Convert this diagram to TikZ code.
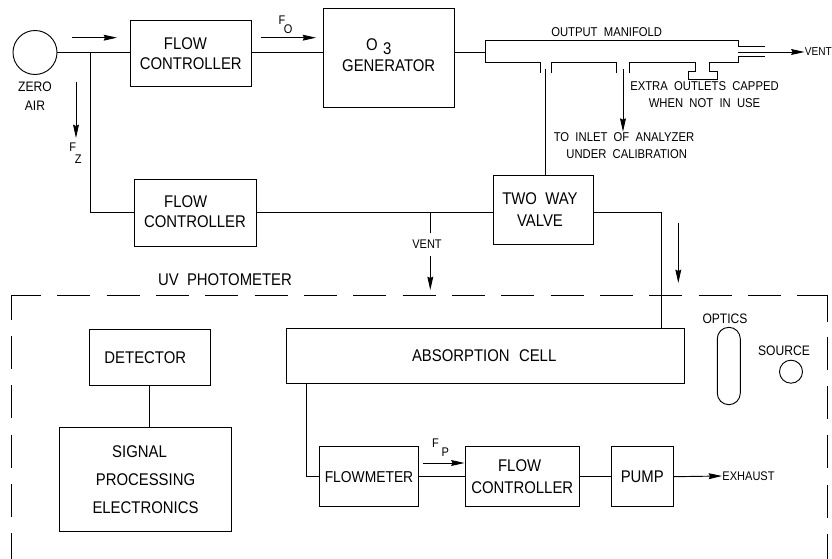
\documentclass[tikz,border=0pt]{standalone}
\usepackage{fontspec}
\setmainfont[FakeStretch=0.88,WordSpace=2]{Liberation Sans}
\usetikzlibrary{arrows.meta, positioning, calc}

\begin{document}
\begin{tikzpicture}[>={Stealth[length=10pt,width=4.4pt,inset=1pt]}, x=0.75pt, y=-0.75pt, line width=0.7pt,
  box/.style={draw, inner sep=0pt, font=\fontsize{12.7}{15}\selectfont, align=center},
  lbl/.style={inner sep=0pt, font=\fontsize{9.6}{12}\selectfont, align=center},
  lblsm/.style={inner sep=0pt, font=\fontsize{9.4}{12}\selectfont, align=center},
  lblwide/.style={inner sep=0pt, font=\fontsize{10.3}{12}\selectfont, align=center},
  heavy/.style={line width=1.15pt},
  photobox/.style={dash pattern=on 24.75pt off 12.25pt}]
  \useasboundingbox (0,0) rectangle (832,559);

  % supply side
  \node[draw, circle, minimum size=33pt, inner sep=0pt] (zero) at (35,52.5) {};
  \node[lblwide] (zerolbl) at (35,96) {ZERO\\[2pt]AIR};
  \node[box, minimum width=91pt, minimum height=49.7pt] (fca) at (190.8,53.8) {FLOW\hspace*{8pt}\\CONTROLLER};
  \node[box, minimum width=98pt, minimum height=73.9pt] (gen) at (388.7,57.8) {O\kern4pt\raisebox{-3pt}{3}\hspace*{15pt}\\[1pt]GENERATOR\hspace*{4pt}\\[-11pt]\mbox{}};
  \node[box, minimum width=91.5pt, minimum height=50pt] (fcb) at (195,212.7) {FLOW\hspace*{14pt}\\CONTROLLER\hspace*{2pt}\\[-13pt]\mbox{}};
  \node[box, minimum width=74.5pt, minimum height=52pt] (valve) at (543.3,209.7) {TWO WAY\hspace*{5pt}\\[2pt]VALVE\hspace*{5pt}};
  \coordinate (tee) at (90.7,52.5);
  \coordinate (mfin) at (485.3,52.5);
  \coordinate (mfout) at (738,52);
  \coordinate (tubeend) at (545.3,69);
  \coordinate (inletstart) at (623,69);
  \coordinate (inletend) at (623,131.7);
  \coordinate (ventstub) at (430,233.3);

  % output manifold
  \draw (mfin) -- (485.3,40.7) -- (738,40.7) -- (738,46.7) -- (765,46.7);
  \draw (mfin) -- (485.3,62) -- (540,62) -- (540,73);
  \draw (551.7,73) -- (551.7,62) -- (616.7,62) -- (616.7,73);
  \draw (629,73) -- (629,62) -- (695,62) -- (695,71) -- (688,71) -- (688,79)
    -- (717,79) -- (717,71) -- (709,71) -- (709,62) -- (738,62) -- (738,56.7) -- (765,56.7);
  \node[lbl] (mflbl) at (606.7,32) {OUTPUT MANIFOLD};
  \node[inner sep=0pt, font=\fontsize{8.6}{12}\selectfont, anchor=west] (ventb) at (804.5,52) {VENT};
  \node[lbl] (capped) at (704.5,94.5) {EXTRA OUTLETS CAPPED\\[1pt]WHEN NOT IN USE};
  \node[lbl] (inlet) at (624,145.5) {TO INLET OF ANALYZER\\[1pt]\hspace*{4pt}UNDER CALIBRATION};
  \node[lblsm] (venta) at (427,244) {VENT};

  % flow marks
  \coordinate (fza) at (72,37.7);
  \coordinate (fzb) at (117,37.7);
  \coordinate (foa) at (260.7,37.7);
  \coordinate (fob) at (316,37.7);
  \coordinate (fya) at (76,82);
  \coordinate (fyb) at (76,138);
  \coordinate (vna) at (430.3,256);
  \coordinate (vnb) at (430.3,290);
  \coordinate (cla) at (678.3,223);
  \coordinate (clb) at (678.3,283);
  \coordinate (fpa) at (423.3,463);
  \node[lblsm] (fo) at (285.5,24.5) {F\kern-1pt\raisebox{-6.75pt}{O}};
  \node[lblsm] (fz) at (75.5,153) {F\kern-1pt\raisebox{-9pt}{Z}};
  \node[lblsm] (fp) at (440.5,447.5) {F\kern2pt\raisebox{-7pt}{P}};

  % photometer
  \node[font=\fontsize{12.7}{15}\selectfont, inner sep=0pt] (uvlbl) at (225,280) {UV PHOTOMETER};
  \node[box, minimum width=298.2pt, minimum height=41.5pt] (cell) at (485.5,356) {ABSORPTION\kern7pt CELL\hspace*{2pt}};
  \node[draw, rounded corners=8.6pt, minimum width=17.25pt, minimum height=58pt, inner sep=0pt] (optics) at (728.8,366) {};
  \node[lblwide] (opticslbl) at (725,318.3) {OPTICS};
  \node[draw, circle, minimum size=17.25pt, inner sep=0pt] (source) at (791,371.7) {};
  \node[lblwide] (sourcelbl) at (784,350.7) {SOURCE};
  \node[box, minimum width=91pt, minimum height=41.7pt] (det) at (150,357.2) {DETECTOR\hspace*{7pt}};
  \node[box, minimum width=128.7pt, minimum height=77.5pt, font=\fontsize{12.7}{21}\selectfont] (spe) at (145.5,479.4) {SIGNAL\hspace*{9pt}\\PROCESSING\\ELECTRONICS};
  \node[box, minimum width=73.7pt, minimum height=45pt, font=\fontsize{11.8}{15}\selectfont] (fm) at (369,476.7) {FLOWMETER};
  \node[box, minimum width=86pt, minimum height=45pt] (fcc) at (522.3,476.7) {FLOW\hspace*{4pt}\\[1pt]CONTROLLER};
  \node[box, minimum width=47pt, minimum height=45pt] (pump) at (642.3,476.7) {PUMP};
  \node[lblsm, anchor=west] (exh) at (722,476) {EXHAUST};
  \coordinate (celldrop) at (306.7,383.7);

  % connectors
  \draw (zero.east) -- (fca.west |- zero);
  \draw (tee) |- (fcb.west);
  \draw[heavy] (fca.east |- tee) -- (gen.west |- tee);
  \draw[heavy] (gen.east |- mfin) -- (mfin);
  \draw (tubeend) -- (tubeend |- valve.north);
  \draw[->] (inletstart) -- (inletend);
  \draw[->] (mfout) -- (ventb.west);
  \draw (fcb.east) -- (valve.west |- fcb);
  \draw (ventstub) -- (ventstub |- fcb);
  \draw[heavy] (valve.east |- fcb) -| (661.7,328.3);
  \draw (det.south -| 149,0) -- (spe.north -| 149,0);
  \draw (celldrop) |- (fm.west);
  \draw[heavy] (fm.east) -- (fcc.west);
  \draw (fcc.east) -- (pump.west);
  \draw[->] (pump.east) -- (exh.west);
  \draw[->] (fza) -- (fzb);
  \draw[->] (foa) -- (fob);
  \draw[->] (fya) -- (fyb);
  \draw[->] (vna) -- (vnb);
  \draw[->] (cla) -- (clb);
  \draw[->] (fpa) -- (fpa -| fcc.west);

  % dashed outline of the photometer
  \draw (40.7,295) -| (11.7,320);
  \draw (797,295) -| (827.3,321.7);
  \draw[photobox] (57.3,295) -- (797,295);
  \draw[photobox] (11.7,336) -- (11.7,559);
  \draw[photobox] (827.3,336.7) -- (827.3,559);
\end{tikzpicture}
\end{document}
